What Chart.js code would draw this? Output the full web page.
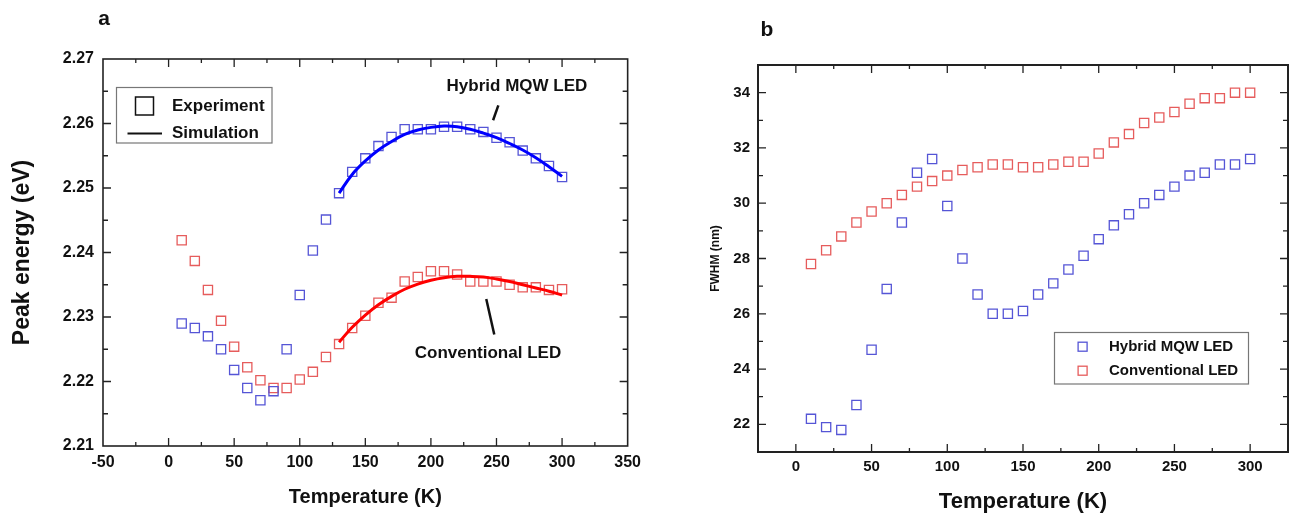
<!DOCTYPE html>
<html><head><meta charset="utf-8">
<script src="https://cdn.jsdelivr.net/npm/chart.js@4"></script>
<style>
html,body{margin:0;padding:0;background:#fff;}
#wrap{position:relative;width:1296px;height:513px;overflow:hidden;}
canvas{position:absolute;top:0;}
</style></head><body>
<div id="wrap">
<canvas id="ca" width="648" height="513" style="left:0"></canvas>
<canvas id="cb" width="648" height="513" style="left:648px"></canvas>
</div>
<script>
// ---------- data ----------
const temps = [10,20,30,40,50,60,70,80,90,100,110,120,130,140,150,160,170,180,190,200,210,220,230,240,250,260,270,280,290,300];
const peakHybrid = [2.2290,2.2283,2.2270,2.2250,2.2218,2.2190,2.2171,2.2185,2.2250,2.2334,2.2403,2.2451,2.2492,2.2525,2.2546,2.2565,2.2579,2.2591,2.2591,2.2591,2.2595,2.2595,2.2591,2.2587,2.2578,2.2571,2.2558,2.2546,2.2534,2.2517];
const peakConv = [2.2419,2.2387,2.2342,2.2294,2.2254,2.2222,2.2202,2.2190,2.2190,2.2203,2.2215,2.2238,2.2258,2.2283,2.2302,2.2322,2.2330,2.2355,2.2362,2.2371,2.2371,2.2366,2.2355,2.2355,2.2355,2.2350,2.2346,2.2346,2.2342,2.2343];
const simTemps = [130,140,150,160,170,180,190,200,210,220,230,240,250,260,270,280,290,300];
const simHybrid = [2.2492,2.2521,2.2542,2.2559,2.2572,2.2583,2.2590,2.2594,2.2596,2.2595,2.2591,2.2585,2.2578,2.2569,2.2559,2.2547,2.2533,2.2518];
const simConv = [2.2261,2.2284,2.2303,2.2319,2.2332,2.2343,2.2351,2.2357,2.2361,2.2363,2.2363,2.2362,2.2359,2.2355,2.2350,2.2345,2.2340,2.2334];
const fwhmHybrid = [22.2,21.9,21.8,22.7,24.7,26.9,29.3,31.1,31.6,29.9,28.0,26.7,26.0,26.0,26.1,26.7,27.1,27.6,28.1,28.7,29.2,29.6,30.0,30.3,30.6,31.0,31.1,31.4,31.4,31.6];
const fwhmConv = [27.8,28.3,28.8,29.3,29.7,30.0,30.3,30.6,30.8,31.0,31.2,31.3,31.4,31.4,31.3,31.3,31.4,31.5,31.5,31.8,32.2,32.5,32.9,33.1,33.3,33.6,33.8,33.8,34.0,34.0];
// ticks
const xTicksA = [-50,0,50,100,150,200,250,300,350];
const xMinorA = [-25,25,75,125,175,225,275,325];
const yTicksA = [2.21,2.22,2.23,2.24,2.25,2.26,2.27];
const yMinorA = [2.215,2.225,2.235,2.245,2.255,2.265];
const xTicksB = [0,50,100,150,200,250,300];
const xMinorB = [25,75,125,175,225,275];
const yTicksB = [22,24,26,28,30,32,34];
const yMinorB = [21,23,25,27,29,31,33,35];

const F = "'Liberation Sans', Arial, sans-serif";
const BLUE = '#5555d6';
const RED = '#e65c5c';
const pts = arr => temps.map((t,i)=>({x:t,y:arr[i]}));
const sim = arr => simTemps.map((t,i)=>({x:t,y:arr[i]}));

function framePlugin(xMaj,xMin,yMaj,yMin,lw){
  return {id:'frame', afterDatasetsDraw(chart){
    const {ctx, chartArea:a, scales:{x,y}} = chart;
    ctx.save();
    ctx.strokeStyle='#222'; ctx.lineWidth=lw;
    ctx.strokeRect(a.left,a.top,a.right-a.left,a.bottom-a.top);
    ctx.lineWidth=1.3;
    const tick=(vals,len)=>{
      vals.forEach(v=>{const px=x.getPixelForValue(v); if(px<=a.left+1||px>=a.right-1)return;
        ctx.beginPath();ctx.moveTo(px,a.bottom);ctx.lineTo(px,a.bottom-len);ctx.moveTo(px,a.top);ctx.lineTo(px,a.top+len);ctx.stroke();});
    };
    const tickY=(vals,len)=>{
      vals.forEach(v=>{const py=y.getPixelForValue(v); if(py<=a.top+1||py>=a.bottom-1)return;
        ctx.beginPath();ctx.moveTo(a.left,py);ctx.lineTo(a.left+len,py);ctx.moveTo(a.right,py);ctx.lineTo(a.right-len,py);ctx.stroke();});
    };
    tick(xMaj,8); tick(xMin,4); tickY(yMaj,8); tickY(yMin,5);
    ctx.restore();
  }};
}

function txt(ctx,s,x,y,size,align){
  ctx.font='bold '+size+'px '+F; ctx.fillStyle='#111'; ctx.textAlign=align||'left'; ctx.textBaseline='middle'; ctx.fillText(s,x,y);
}

const annoA = {id:'annoA', afterDraw(chart){
  const {ctx, scales:{x,y}} = chart;
  ctx.save();
  txt(ctx,'a',104,19,21,'center');
  // legend
  ctx.strokeStyle='#777'; ctx.lineWidth=1.2; ctx.strokeRect(116.5,87.5,155.5,55.5);
  ctx.strokeStyle='#111'; ctx.lineWidth=1.5; ctx.strokeRect(135.5,97,18,18);
  ctx.lineWidth=2; ctx.beginPath(); ctx.moveTo(127.5,133.5); ctx.lineTo(162,133.5); ctx.stroke();
  txt(ctx,'Experiment',172,106,17); txt(ctx,'Simulation',172,133.5,17);
  // annotations
  txt(ctx,'Hybrid MQW LED',x.getPixelForValue(265.6),y.getPixelForValue(2.2657),17,'center');
  txt(ctx,'Conventional LED',x.getPixelForValue(243.5),y.getPixelForValue(2.2244),17,'center');
  ctx.strokeStyle='#111'; ctx.lineWidth=2.5;
  ctx.beginPath(); ctx.moveTo(x.getPixelForValue(251.4),y.getPixelForValue(2.2628)); ctx.lineTo(x.getPixelForValue(247.4),y.getPixelForValue(2.2605)); ctx.stroke();
  ctx.beginPath(); ctx.moveTo(x.getPixelForValue(242.2),y.getPixelForValue(2.2328)); ctx.lineTo(x.getPixelForValue(248.3),y.getPixelForValue(2.2273)); ctx.stroke();
  ctx.restore();
}};

const annoB = {id:'annoB', afterDraw(chart){
  const {ctx} = chart;
  ctx.save();
  txt(ctx,'b',119,30,21,'center');
  ctx.strokeStyle='#777'; ctx.lineWidth=1.2; ctx.strokeRect(406.5,332.5,194,51.5);
  const sq=(cx,cy,c)=>{ctx.strokeStyle=c;ctx.lineWidth=1.3;ctx.strokeRect(cx-4.5,cy-4.5,9,9);};
  sq(434.6,346.7,BLUE); sq(434.6,370.7,RED);
  txt(ctx,'Hybrid MQW LED',461,346.7,15); txt(ctx,'Conventional LED',461,370.7,15);
  ctx.restore();
}};

function axisX(min,max,ticks,h,fs,pad,title,tfs,tpad){
  return {type:'linear',min,max,
    afterBuildTicks:s=>{s.ticks=ticks.map(v=>({value:v}));},
    afterFit:s=>{s.height=h;},
    grid:{display:false,drawTicks:false}, border:{display:false},
    ticks:{font:{family:F,size:fs,weight:'bold'},color:'#111',padding:pad,maxRotation:0,autoSkip:false,callback:v=>String(v)},
    title:{display:true,text:title,color:'#111',font:{family:F,size:tfs,weight:'bold',lineHeight:1},padding:{top:0,bottom:tpad}}};
}
function axisY(min,max,ticks,w,fs,pad,title,tfs,tpad,dec){
  return {type:'linear',min,max,
    afterBuildTicks:s=>{s.ticks=ticks.map(v=>({value:v}));},
    afterFit:s=>{s.width=w;},
    grid:{display:false,drawTicks:false}, border:{display:false},
    ticks:{font:{family:F,size:fs,weight:'bold'},color:'#111',padding:pad,autoSkip:false,callback:v=>Number(v).toFixed(dec)},
    title:{display:true,text:title,color:'#111',font:{family:F,size:tfs,weight:'bold',lineHeight:1},padding:{top:tpad,bottom:0}}};
}

const common = {responsive:false, animation:false, plugins:{legend:{display:false},tooltip:{enabled:false}}};

new Chart(document.getElementById('ca'),{
  type:'scatter',
  data:{datasets:[
    {type:'line',data:sim(simHybrid),borderColor:'#0000ff',borderWidth:3,pointRadius:0,tension:0.4,fill:false},
    {type:'line',data:sim(simConv),borderColor:'#ff0000',borderWidth:3,pointRadius:0,tension:0.4,fill:false},
    {data:pts(peakHybrid),pointStyle:'rect',pointRadius:6.5,borderColor:BLUE,backgroundColor:'rgba(0,0,0,0)',borderWidth:1.3},
    {data:pts(peakConv),pointStyle:'rect',pointRadius:6.5,borderColor:RED,backgroundColor:'rgba(0,0,0,0)',borderWidth:1.3}
  ]},
  options:Object.assign({},common,{
    layout:{padding:{left:0,right:16,top:59,bottom:0}},
    scales:{
      x:axisX(-50,350,xTicksA,67,16,7,'Temperature (K)',20,6),
      y:axisY(2.21,2.27,yTicksA,103,16,9,'Peak energy (eV)',23,11,2)
    }
  }),
  plugins:[framePlugin(xTicksA,xMinorA,yTicksA,yMinorA,1.6),annoA]
});

new Chart(document.getElementById('cb'),{
  type:'scatter',
  data:{datasets:[
    {data:pts(fwhmHybrid),pointStyle:'rect',pointRadius:6.5,borderColor:BLUE,backgroundColor:'rgba(0,0,0,0)',borderWidth:1.3},
    {data:pts(fwhmConv),pointStyle:'rect',pointRadius:6.5,borderColor:RED,backgroundColor:'rgba(0,0,0,0)',borderWidth:1.3}
  ]},
  options:Object.assign({},common,{
    layout:{padding:{left:0,right:8,top:65,bottom:0}},
    scales:{
      x:axisX(-25,325,xTicksB,61,15,6,'Temperature (K)',22,0),
      y:axisY(21,35,yTicksB,110,15,8,'FWHM (nm)',12,62,0)
    }
  }),
  plugins:[framePlugin(xTicksB,xMinorB,yTicksB,yMinorB,2),annoB]
});
</script>
</body></html>
